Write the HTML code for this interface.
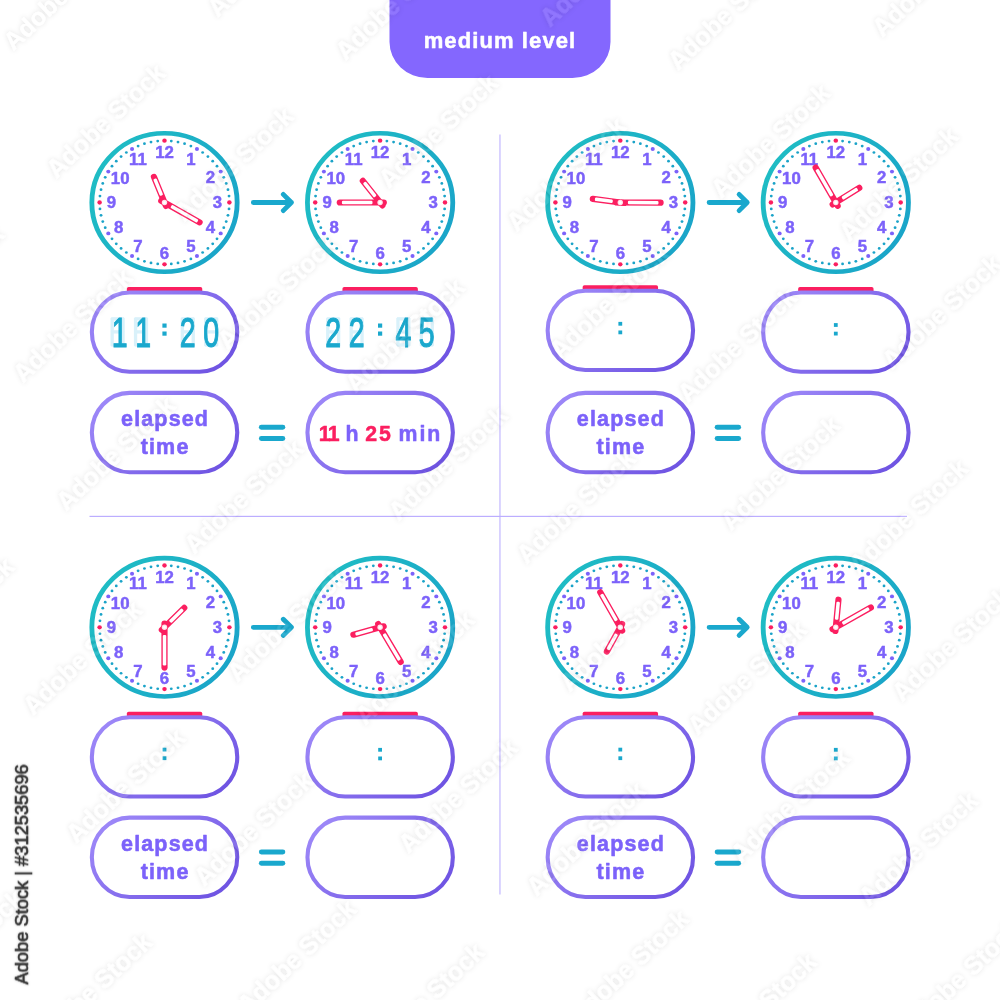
<!DOCTYPE html>
<html lang="en"><head><meta charset="utf-8"><title>Elapsed time worksheet - medium level</title>
<style>html,body{margin:0;padding:0;background:#fff}body{width:1000px;height:1000px;overflow:hidden;position:relative;font-family:"Liberation Sans",sans-serif}svg{display:block;position:absolute;left:0;top:0}</style>
</head><body>
<svg width="1000" height="1000" viewBox="0 0 1000 1000" font-family="'Liberation Sans', sans-serif">
<defs>
<linearGradient id="ring" x1="0" y1="0.25" x2="1" y2="0.75"><stop offset="0" stop-color="#1fbdc4"/><stop offset="1" stop-color="#1aa4c9"/></linearGradient>
<linearGradient id="pill" x1="0" y1="0.2" x2="1" y2="0.8"><stop offset="0" stop-color="#9d88f8"/><stop offset="1" stop-color="#6e53e2"/></linearGradient>
<filter id="wm" filterUnits="userSpaceOnUse" x="0" y="0" width="1000" height="1000"><feGaussianBlur in="SourceAlpha" stdDeviation="2.8" result="b"/><feComposite in="b" in2="SourceAlpha" operator="out" result="o"/><feColorMatrix in="o" type="matrix" values="0 0 0 0 0  0 0 0 0 0  0 0 0 0 0  0 0 0 0.12 0" result="s"/><feColorMatrix in="SourceGraphic" type="matrix" values="1 0 0 0 0  0 1 0 0 0  0 0 1 0 0  0 0 0 0.1 0" result="w"/><feMerge><feMergeNode in="s"/><feMergeNode in="w"/></feMerge></filter>
</defs>
<rect width="1000" height="1000" fill="#fff"/>
<path d="M389.5 0 H610.5 V42 a38 36 0 0 1 -38 36 H427.5 a38 36 0 0 1 -38 -36 Z" fill="#8467fe"/>
<text x="500" y="48.1" font-size="22" font-weight="700" fill="#fff" stroke="#fff" stroke-width="0.5" stroke-linejoin="round" text-anchor="middle" letter-spacing="1.1">medium level</text>
<rect x="499.2" y="134.5" width="1.5" height="760" fill="#cfc6ff"/>
<rect x="89.5" y="515.8" width="817.5" height="1.2" fill="#bcaeff"/>
<g transform="translate(164.5 202.5)">
<g transform="scale(1.05 1)">
<circle r="69.2" fill="#fff" stroke="url(#ring)" stroke-width="4.6"/>
<circle cx="0" cy="-61.8" r="2.15" fill="#fb1f60"/>
<circle cx="6.46" cy="-61.46" r="1.35" fill="#1aa3c8"/>
<circle cx="12.85" cy="-60.45" r="1.35" fill="#1aa3c8"/>
<circle cx="19.1" cy="-58.78" r="1.35" fill="#1aa3c8"/>
<circle cx="25.14" cy="-56.46" r="1.35" fill="#1aa3c8"/>
<circle cx="30.9" cy="-53.52" r="1.95" fill="#7c62fa"/>
<circle cx="36.33" cy="-50" r="1.35" fill="#1aa3c8"/>
<circle cx="41.35" cy="-45.93" r="1.35" fill="#1aa3c8"/>
<circle cx="45.93" cy="-41.35" r="1.35" fill="#1aa3c8"/>
<circle cx="50" cy="-36.33" r="1.35" fill="#1aa3c8"/>
<circle cx="53.52" cy="-30.9" r="1.95" fill="#7c62fa"/>
<circle cx="56.46" cy="-25.14" r="1.35" fill="#1aa3c8"/>
<circle cx="58.78" cy="-19.1" r="1.35" fill="#1aa3c8"/>
<circle cx="60.45" cy="-12.85" r="1.35" fill="#1aa3c8"/>
<circle cx="61.46" cy="-6.46" r="1.35" fill="#1aa3c8"/>
<circle cx="61.8" cy="0" r="2.15" fill="#fb1f60"/>
<circle cx="61.46" cy="6.46" r="1.35" fill="#1aa3c8"/>
<circle cx="60.45" cy="12.85" r="1.35" fill="#1aa3c8"/>
<circle cx="58.78" cy="19.1" r="1.35" fill="#1aa3c8"/>
<circle cx="56.46" cy="25.14" r="1.35" fill="#1aa3c8"/>
<circle cx="53.52" cy="30.9" r="1.95" fill="#7c62fa"/>
<circle cx="50" cy="36.33" r="1.35" fill="#1aa3c8"/>
<circle cx="45.93" cy="41.35" r="1.35" fill="#1aa3c8"/>
<circle cx="41.35" cy="45.93" r="1.35" fill="#1aa3c8"/>
<circle cx="36.33" cy="50" r="1.35" fill="#1aa3c8"/>
<circle cx="30.9" cy="53.52" r="1.95" fill="#7c62fa"/>
<circle cx="25.14" cy="56.46" r="1.35" fill="#1aa3c8"/>
<circle cx="19.1" cy="58.78" r="1.35" fill="#1aa3c8"/>
<circle cx="12.85" cy="60.45" r="1.35" fill="#1aa3c8"/>
<circle cx="6.46" cy="61.46" r="1.35" fill="#1aa3c8"/>
<circle cx="0" cy="61.8" r="2.15" fill="#fb1f60"/>
<circle cx="-6.46" cy="61.46" r="1.35" fill="#1aa3c8"/>
<circle cx="-12.85" cy="60.45" r="1.35" fill="#1aa3c8"/>
<circle cx="-19.1" cy="58.78" r="1.35" fill="#1aa3c8"/>
<circle cx="-25.14" cy="56.46" r="1.35" fill="#1aa3c8"/>
<circle cx="-30.9" cy="53.52" r="1.95" fill="#7c62fa"/>
<circle cx="-36.33" cy="50" r="1.35" fill="#1aa3c8"/>
<circle cx="-41.35" cy="45.93" r="1.35" fill="#1aa3c8"/>
<circle cx="-45.93" cy="41.35" r="1.35" fill="#1aa3c8"/>
<circle cx="-50" cy="36.33" r="1.35" fill="#1aa3c8"/>
<circle cx="-53.52" cy="30.9" r="1.95" fill="#7c62fa"/>
<circle cx="-56.46" cy="25.14" r="1.35" fill="#1aa3c8"/>
<circle cx="-58.78" cy="19.1" r="1.35" fill="#1aa3c8"/>
<circle cx="-60.45" cy="12.85" r="1.35" fill="#1aa3c8"/>
<circle cx="-61.46" cy="6.46" r="1.35" fill="#1aa3c8"/>
<circle cx="-61.8" cy="0" r="2.15" fill="#fb1f60"/>
<circle cx="-61.46" cy="-6.46" r="1.35" fill="#1aa3c8"/>
<circle cx="-60.45" cy="-12.85" r="1.35" fill="#1aa3c8"/>
<circle cx="-58.78" cy="-19.1" r="1.35" fill="#1aa3c8"/>
<circle cx="-56.46" cy="-25.14" r="1.35" fill="#1aa3c8"/>
<circle cx="-53.52" cy="-30.9" r="1.95" fill="#7c62fa"/>
<circle cx="-50" cy="-36.33" r="1.35" fill="#1aa3c8"/>
<circle cx="-45.93" cy="-41.35" r="1.35" fill="#1aa3c8"/>
<circle cx="-41.35" cy="-45.93" r="1.35" fill="#1aa3c8"/>
<circle cx="-36.33" cy="-50" r="1.35" fill="#1aa3c8"/>
<circle cx="-30.9" cy="-53.52" r="1.95" fill="#7c62fa"/>
<circle cx="-25.14" cy="-56.46" r="1.35" fill="#1aa3c8"/>
<circle cx="-19.1" cy="-58.78" r="1.35" fill="#1aa3c8"/>
<circle cx="-12.85" cy="-60.45" r="1.35" fill="#1aa3c8"/>
<circle cx="-6.46" cy="-61.46" r="1.35" fill="#1aa3c8"/>
<g font-size="16" font-weight="700" fill="#7c62fa" stroke="#7c62fa" stroke-width="0.45" stroke-linejoin="round" text-anchor="middle">
<text x="25.25" y="-37.98">1</text>
<text x="43.73" y="-19.5">2</text>
<text x="50.5" y="5.75">3</text>
<text x="43.73" y="31">4</text>
<text x="25.25" y="49.48">5</text>
<text x="0" y="56.25">6</text>
<text x="-25.25" y="49.48">7</text>
<text x="-43.73" y="31">8</text>
<text x="-50.5" y="5.75">9</text>
<text x="-42.26" y="-18.65">10</text>
<text x="-25.25" y="-37.98">11</text>
<text x="0" y="-44.75">12</text>
</g>
</g>
<g transform="rotate(29.5)">
<rect x="-6.8" y="-3.1" width="50.2" height="6.2" rx="3.1" fill="#fb1f60"/>
<rect x="7.6" y="-1.75" width="30.6" height="3.5" rx="1.2" fill="#fff"/>
</g>
<g transform="rotate(247.6)">
<rect x="-6.8" y="-3.1" width="37.6" height="6.2" rx="3.1" fill="#fb1f60"/>
<rect x="7.6" y="-1.75" width="18" height="3.5" rx="1.2" fill="#fff"/>
</g>
<circle r="2.7" fill="#ffe3ea"/>
<circle r="1.5" fill="#fff"/>
</g>
<g transform="translate(380.1 202.5)">
<g transform="scale(1.05 1)">
<circle r="69.2" fill="#fff" stroke="url(#ring)" stroke-width="4.6"/>
<circle cx="0" cy="-61.8" r="2.15" fill="#fb1f60"/>
<circle cx="6.46" cy="-61.46" r="1.35" fill="#1aa3c8"/>
<circle cx="12.85" cy="-60.45" r="1.35" fill="#1aa3c8"/>
<circle cx="19.1" cy="-58.78" r="1.35" fill="#1aa3c8"/>
<circle cx="25.14" cy="-56.46" r="1.35" fill="#1aa3c8"/>
<circle cx="30.9" cy="-53.52" r="1.95" fill="#7c62fa"/>
<circle cx="36.33" cy="-50" r="1.35" fill="#1aa3c8"/>
<circle cx="41.35" cy="-45.93" r="1.35" fill="#1aa3c8"/>
<circle cx="45.93" cy="-41.35" r="1.35" fill="#1aa3c8"/>
<circle cx="50" cy="-36.33" r="1.35" fill="#1aa3c8"/>
<circle cx="53.52" cy="-30.9" r="1.95" fill="#7c62fa"/>
<circle cx="56.46" cy="-25.14" r="1.35" fill="#1aa3c8"/>
<circle cx="58.78" cy="-19.1" r="1.35" fill="#1aa3c8"/>
<circle cx="60.45" cy="-12.85" r="1.35" fill="#1aa3c8"/>
<circle cx="61.46" cy="-6.46" r="1.35" fill="#1aa3c8"/>
<circle cx="61.8" cy="0" r="2.15" fill="#fb1f60"/>
<circle cx="61.46" cy="6.46" r="1.35" fill="#1aa3c8"/>
<circle cx="60.45" cy="12.85" r="1.35" fill="#1aa3c8"/>
<circle cx="58.78" cy="19.1" r="1.35" fill="#1aa3c8"/>
<circle cx="56.46" cy="25.14" r="1.35" fill="#1aa3c8"/>
<circle cx="53.52" cy="30.9" r="1.95" fill="#7c62fa"/>
<circle cx="50" cy="36.33" r="1.35" fill="#1aa3c8"/>
<circle cx="45.93" cy="41.35" r="1.35" fill="#1aa3c8"/>
<circle cx="41.35" cy="45.93" r="1.35" fill="#1aa3c8"/>
<circle cx="36.33" cy="50" r="1.35" fill="#1aa3c8"/>
<circle cx="30.9" cy="53.52" r="1.95" fill="#7c62fa"/>
<circle cx="25.14" cy="56.46" r="1.35" fill="#1aa3c8"/>
<circle cx="19.1" cy="58.78" r="1.35" fill="#1aa3c8"/>
<circle cx="12.85" cy="60.45" r="1.35" fill="#1aa3c8"/>
<circle cx="6.46" cy="61.46" r="1.35" fill="#1aa3c8"/>
<circle cx="0" cy="61.8" r="2.15" fill="#fb1f60"/>
<circle cx="-6.46" cy="61.46" r="1.35" fill="#1aa3c8"/>
<circle cx="-12.85" cy="60.45" r="1.35" fill="#1aa3c8"/>
<circle cx="-19.1" cy="58.78" r="1.35" fill="#1aa3c8"/>
<circle cx="-25.14" cy="56.46" r="1.35" fill="#1aa3c8"/>
<circle cx="-30.9" cy="53.52" r="1.95" fill="#7c62fa"/>
<circle cx="-36.33" cy="50" r="1.35" fill="#1aa3c8"/>
<circle cx="-41.35" cy="45.93" r="1.35" fill="#1aa3c8"/>
<circle cx="-45.93" cy="41.35" r="1.35" fill="#1aa3c8"/>
<circle cx="-50" cy="36.33" r="1.35" fill="#1aa3c8"/>
<circle cx="-53.52" cy="30.9" r="1.95" fill="#7c62fa"/>
<circle cx="-56.46" cy="25.14" r="1.35" fill="#1aa3c8"/>
<circle cx="-58.78" cy="19.1" r="1.35" fill="#1aa3c8"/>
<circle cx="-60.45" cy="12.85" r="1.35" fill="#1aa3c8"/>
<circle cx="-61.46" cy="6.46" r="1.35" fill="#1aa3c8"/>
<circle cx="-61.8" cy="0" r="2.15" fill="#fb1f60"/>
<circle cx="-61.46" cy="-6.46" r="1.35" fill="#1aa3c8"/>
<circle cx="-60.45" cy="-12.85" r="1.35" fill="#1aa3c8"/>
<circle cx="-58.78" cy="-19.1" r="1.35" fill="#1aa3c8"/>
<circle cx="-56.46" cy="-25.14" r="1.35" fill="#1aa3c8"/>
<circle cx="-53.52" cy="-30.9" r="1.95" fill="#7c62fa"/>
<circle cx="-50" cy="-36.33" r="1.35" fill="#1aa3c8"/>
<circle cx="-45.93" cy="-41.35" r="1.35" fill="#1aa3c8"/>
<circle cx="-41.35" cy="-45.93" r="1.35" fill="#1aa3c8"/>
<circle cx="-36.33" cy="-50" r="1.35" fill="#1aa3c8"/>
<circle cx="-30.9" cy="-53.52" r="1.95" fill="#7c62fa"/>
<circle cx="-25.14" cy="-56.46" r="1.35" fill="#1aa3c8"/>
<circle cx="-19.1" cy="-58.78" r="1.35" fill="#1aa3c8"/>
<circle cx="-12.85" cy="-60.45" r="1.35" fill="#1aa3c8"/>
<circle cx="-6.46" cy="-61.46" r="1.35" fill="#1aa3c8"/>
<g font-size="16" font-weight="700" fill="#7c62fa" stroke="#7c62fa" stroke-width="0.45" stroke-linejoin="round" text-anchor="middle">
<text x="25.25" y="-37.98">1</text>
<text x="43.73" y="-19.5">2</text>
<text x="50.5" y="5.75">3</text>
<text x="43.73" y="31">4</text>
<text x="25.25" y="49.48">5</text>
<text x="0" y="56.25">6</text>
<text x="-25.25" y="49.48">7</text>
<text x="-43.73" y="31">8</text>
<text x="-50.5" y="5.75">9</text>
<text x="-42.26" y="-18.65">10</text>
<text x="-25.25" y="-37.98">11</text>
<text x="0" y="-44.75">12</text>
</g>
</g>
<g transform="rotate(180)">
<rect x="-6.8" y="-3.1" width="50.2" height="6.2" rx="3.1" fill="#fb1f60"/>
<rect x="7.6" y="-1.75" width="30.6" height="3.5" rx="1.2" fill="#fff"/>
</g>
<g transform="rotate(231.5)">
<rect x="-6.8" y="-3.1" width="37.6" height="6.2" rx="3.1" fill="#fb1f60"/>
<rect x="7.6" y="-1.75" width="18" height="3.5" rx="1.2" fill="#fff"/>
</g>
<circle r="2.7" fill="#ffe3ea"/>
<circle r="1.5" fill="#fff"/>
</g>
<path d="M253.3 202.5 H291.4 M283.3 194.4 L291.4 202.5 L283.3 210.6" fill="none" stroke="#1aa8cd" stroke-width="4.8" stroke-linecap="round" stroke-linejoin="round"/>
<path d="M126.85 291.9 v-3.2 a1.8 1.8 0 0 1 1.8 -1.8 h71.8 a1.8 1.8 0 0 1 1.8 1.8 v3.2 z" fill="#fb1f60"/>
<rect x="91.85" y="292.45" width="145.4" height="79.3" rx="37.67" ry="39.65" fill="#fff" stroke="url(#pill)" stroke-width="4.1"/>
<path d="M342.45 291.9 v-3.2 a1.8 1.8 0 0 1 1.8 -1.8 h71.8 a1.8 1.8 0 0 1 1.8 1.8 v3.2 z" fill="#fb1f60"/>
<rect x="307.45" y="292.45" width="145.4" height="79.3" rx="37.67" ry="39.65" fill="#fff" stroke="url(#pill)" stroke-width="4.1"/>
<rect x="91.85" y="392.85" width="145.4" height="79.4" rx="37.72" ry="39.7" fill="#fff" stroke="url(#pill)" stroke-width="4.1"/>
<rect x="307.45" y="392.85" width="145.4" height="79.4" rx="37.72" ry="39.7" fill="#fff" stroke="url(#pill)" stroke-width="4.1"/>
<rect x="258.9" y="424.75" width="26.4" height="4.9" rx="2.45" fill="#1aa8cd"/>
<rect x="258.9" y="436.05" width="26.4" height="4.9" rx="2.45" fill="#1aa8cd"/>
<g font-size="21.5" font-weight="700" fill="#7c62fa" stroke="#7c62fa" stroke-width="0.55" stroke-linejoin="round" text-anchor="middle" letter-spacing="1.15">
<text x="165.1" y="425.8">elapsed</text>
<text x="165.1" y="454.3">time</text>
</g>
<g fill="#d9f1fa">
<rect x="111.2" y="317.2" width="12.8" height="3.3"/>
<rect x="111.2" y="330.25" width="12.8" height="3.3"/>
<rect x="111.2" y="343.3" width="12.8" height="3.3"/>
<rect x="110.5" y="317.9" width="3.3" height="14.15"/>
<rect x="110.5" y="331.75" width="3.3" height="14.15"/>
<rect x="121.4" y="317.9" width="3.3" height="14.15"/>
<rect x="121.4" y="331.75" width="3.3" height="14.15"/>
</g>
<g fill="#d9f1fa">
<rect x="134.6" y="317.2" width="12.8" height="3.3"/>
<rect x="134.6" y="330.25" width="12.8" height="3.3"/>
<rect x="134.6" y="343.3" width="12.8" height="3.3"/>
<rect x="133.9" y="317.9" width="3.3" height="14.15"/>
<rect x="133.9" y="331.75" width="3.3" height="14.15"/>
<rect x="144.8" y="317.9" width="3.3" height="14.15"/>
<rect x="144.8" y="331.75" width="3.3" height="14.15"/>
</g>
<g fill="#d9f1fa">
<rect x="181.4" y="317.2" width="12.8" height="3.3"/>
<rect x="181.4" y="330.25" width="12.8" height="3.3"/>
<rect x="181.4" y="343.3" width="12.8" height="3.3"/>
<rect x="180.7" y="317.9" width="3.3" height="14.15"/>
<rect x="180.7" y="331.75" width="3.3" height="14.15"/>
<rect x="191.6" y="317.9" width="3.3" height="14.15"/>
<rect x="191.6" y="331.75" width="3.3" height="14.15"/>
</g>
<g fill="#d9f1fa">
<rect x="204.8" y="317.2" width="12.8" height="3.3"/>
<rect x="204.8" y="330.25" width="12.8" height="3.3"/>
<rect x="204.8" y="343.3" width="12.8" height="3.3"/>
<rect x="204.1" y="317.9" width="3.3" height="14.15"/>
<rect x="204.1" y="331.75" width="3.3" height="14.15"/>
<rect x="215" y="317.9" width="3.3" height="14.15"/>
<rect x="215" y="331.75" width="3.3" height="14.15"/>
</g>
<g font-size="42.6" fill="#1aa8cd" stroke="#1aa8cd" stroke-width="1.1" text-anchor="middle">
<text transform="translate(119.8 346.6) scale(0.67 1)">1</text>
<text transform="translate(143.2 346.6) scale(0.67 1)">1</text>
<text transform="translate(187.8 346.6) scale(0.67 1)">2</text>
<text transform="translate(211.2 346.6) scale(0.67 1)">0</text>
</g>
<rect x="162.4" y="323.5" width="4.2" height="4.2" fill="#1aa8cd"/>
<rect x="162.4" y="331.5" width="4.2" height="4.2" fill="#1aa8cd"/>
<g fill="#d9f1fa">
<rect x="326.8" y="317.2" width="12.8" height="3.3"/>
<rect x="326.8" y="330.25" width="12.8" height="3.3"/>
<rect x="326.8" y="343.3" width="12.8" height="3.3"/>
<rect x="326.1" y="317.9" width="3.3" height="14.15"/>
<rect x="326.1" y="331.75" width="3.3" height="14.15"/>
<rect x="337" y="317.9" width="3.3" height="14.15"/>
<rect x="337" y="331.75" width="3.3" height="14.15"/>
</g>
<g fill="#d9f1fa">
<rect x="350.2" y="317.2" width="12.8" height="3.3"/>
<rect x="350.2" y="330.25" width="12.8" height="3.3"/>
<rect x="350.2" y="343.3" width="12.8" height="3.3"/>
<rect x="349.5" y="317.9" width="3.3" height="14.15"/>
<rect x="349.5" y="331.75" width="3.3" height="14.15"/>
<rect x="360.4" y="317.9" width="3.3" height="14.15"/>
<rect x="360.4" y="331.75" width="3.3" height="14.15"/>
</g>
<g fill="#d9f1fa">
<rect x="397" y="317.2" width="12.8" height="3.3"/>
<rect x="397" y="330.25" width="12.8" height="3.3"/>
<rect x="397" y="343.3" width="12.8" height="3.3"/>
<rect x="396.3" y="317.9" width="3.3" height="14.15"/>
<rect x="396.3" y="331.75" width="3.3" height="14.15"/>
<rect x="407.2" y="317.9" width="3.3" height="14.15"/>
<rect x="407.2" y="331.75" width="3.3" height="14.15"/>
</g>
<g fill="#d9f1fa">
<rect x="420.4" y="317.2" width="12.8" height="3.3"/>
<rect x="420.4" y="330.25" width="12.8" height="3.3"/>
<rect x="420.4" y="343.3" width="12.8" height="3.3"/>
<rect x="419.7" y="317.9" width="3.3" height="14.15"/>
<rect x="419.7" y="331.75" width="3.3" height="14.15"/>
<rect x="430.6" y="317.9" width="3.3" height="14.15"/>
<rect x="430.6" y="331.75" width="3.3" height="14.15"/>
</g>
<g font-size="42.6" fill="#1aa8cd" stroke="#1aa8cd" stroke-width="1.1" text-anchor="middle">
<text transform="translate(333.2 346.6) scale(0.67 1)">2</text>
<text transform="translate(356.6 346.6) scale(0.67 1)">2</text>
<text transform="translate(403.4 346.6) scale(0.67 1)">4</text>
<text transform="translate(426.8 346.6) scale(0.67 1)">5</text>
</g>
<rect x="378" y="323.5" width="4.2" height="4.2" fill="#1aa8cd"/>
<rect x="378" y="331.5" width="4.2" height="4.2" fill="#1aa8cd"/>
<text y="441.4" font-size="21.3" font-weight="700" stroke-width="0.5" stroke-linejoin="round" fill="#7c62fa" stroke="#7c62fa"><tspan x="318.8" fill="#fb1f60" stroke="#fb1f60" letter-spacing="-1.6">11</tspan> <tspan x="345.6">h</tspan> <tspan x="365.2" fill="#fb1f60" stroke="#fb1f60" letter-spacing="2">25</tspan> <tspan x="398.6" letter-spacing="1.9">min</tspan></text>
<g transform="translate(620.3 202.5)">
<g transform="scale(1.05 1)">
<circle r="69.2" fill="#fff" stroke="url(#ring)" stroke-width="4.6"/>
<circle cx="0" cy="-61.8" r="2.15" fill="#fb1f60"/>
<circle cx="6.46" cy="-61.46" r="1.35" fill="#1aa3c8"/>
<circle cx="12.85" cy="-60.45" r="1.35" fill="#1aa3c8"/>
<circle cx="19.1" cy="-58.78" r="1.35" fill="#1aa3c8"/>
<circle cx="25.14" cy="-56.46" r="1.35" fill="#1aa3c8"/>
<circle cx="30.9" cy="-53.52" r="1.95" fill="#7c62fa"/>
<circle cx="36.33" cy="-50" r="1.35" fill="#1aa3c8"/>
<circle cx="41.35" cy="-45.93" r="1.35" fill="#1aa3c8"/>
<circle cx="45.93" cy="-41.35" r="1.35" fill="#1aa3c8"/>
<circle cx="50" cy="-36.33" r="1.35" fill="#1aa3c8"/>
<circle cx="53.52" cy="-30.9" r="1.95" fill="#7c62fa"/>
<circle cx="56.46" cy="-25.14" r="1.35" fill="#1aa3c8"/>
<circle cx="58.78" cy="-19.1" r="1.35" fill="#1aa3c8"/>
<circle cx="60.45" cy="-12.85" r="1.35" fill="#1aa3c8"/>
<circle cx="61.46" cy="-6.46" r="1.35" fill="#1aa3c8"/>
<circle cx="61.8" cy="0" r="2.15" fill="#fb1f60"/>
<circle cx="61.46" cy="6.46" r="1.35" fill="#1aa3c8"/>
<circle cx="60.45" cy="12.85" r="1.35" fill="#1aa3c8"/>
<circle cx="58.78" cy="19.1" r="1.35" fill="#1aa3c8"/>
<circle cx="56.46" cy="25.14" r="1.35" fill="#1aa3c8"/>
<circle cx="53.52" cy="30.9" r="1.95" fill="#7c62fa"/>
<circle cx="50" cy="36.33" r="1.35" fill="#1aa3c8"/>
<circle cx="45.93" cy="41.35" r="1.35" fill="#1aa3c8"/>
<circle cx="41.35" cy="45.93" r="1.35" fill="#1aa3c8"/>
<circle cx="36.33" cy="50" r="1.35" fill="#1aa3c8"/>
<circle cx="30.9" cy="53.52" r="1.95" fill="#7c62fa"/>
<circle cx="25.14" cy="56.46" r="1.35" fill="#1aa3c8"/>
<circle cx="19.1" cy="58.78" r="1.35" fill="#1aa3c8"/>
<circle cx="12.85" cy="60.45" r="1.35" fill="#1aa3c8"/>
<circle cx="6.46" cy="61.46" r="1.35" fill="#1aa3c8"/>
<circle cx="0" cy="61.8" r="2.15" fill="#fb1f60"/>
<circle cx="-6.46" cy="61.46" r="1.35" fill="#1aa3c8"/>
<circle cx="-12.85" cy="60.45" r="1.35" fill="#1aa3c8"/>
<circle cx="-19.1" cy="58.78" r="1.35" fill="#1aa3c8"/>
<circle cx="-25.14" cy="56.46" r="1.35" fill="#1aa3c8"/>
<circle cx="-30.9" cy="53.52" r="1.95" fill="#7c62fa"/>
<circle cx="-36.33" cy="50" r="1.35" fill="#1aa3c8"/>
<circle cx="-41.35" cy="45.93" r="1.35" fill="#1aa3c8"/>
<circle cx="-45.93" cy="41.35" r="1.35" fill="#1aa3c8"/>
<circle cx="-50" cy="36.33" r="1.35" fill="#1aa3c8"/>
<circle cx="-53.52" cy="30.9" r="1.95" fill="#7c62fa"/>
<circle cx="-56.46" cy="25.14" r="1.35" fill="#1aa3c8"/>
<circle cx="-58.78" cy="19.1" r="1.35" fill="#1aa3c8"/>
<circle cx="-60.45" cy="12.85" r="1.35" fill="#1aa3c8"/>
<circle cx="-61.46" cy="6.46" r="1.35" fill="#1aa3c8"/>
<circle cx="-61.8" cy="0" r="2.15" fill="#fb1f60"/>
<circle cx="-61.46" cy="-6.46" r="1.35" fill="#1aa3c8"/>
<circle cx="-60.45" cy="-12.85" r="1.35" fill="#1aa3c8"/>
<circle cx="-58.78" cy="-19.1" r="1.35" fill="#1aa3c8"/>
<circle cx="-56.46" cy="-25.14" r="1.35" fill="#1aa3c8"/>
<circle cx="-53.52" cy="-30.9" r="1.95" fill="#7c62fa"/>
<circle cx="-50" cy="-36.33" r="1.35" fill="#1aa3c8"/>
<circle cx="-45.93" cy="-41.35" r="1.35" fill="#1aa3c8"/>
<circle cx="-41.35" cy="-45.93" r="1.35" fill="#1aa3c8"/>
<circle cx="-36.33" cy="-50" r="1.35" fill="#1aa3c8"/>
<circle cx="-30.9" cy="-53.52" r="1.95" fill="#7c62fa"/>
<circle cx="-25.14" cy="-56.46" r="1.35" fill="#1aa3c8"/>
<circle cx="-19.1" cy="-58.78" r="1.35" fill="#1aa3c8"/>
<circle cx="-12.85" cy="-60.45" r="1.35" fill="#1aa3c8"/>
<circle cx="-6.46" cy="-61.46" r="1.35" fill="#1aa3c8"/>
<g font-size="16" font-weight="700" fill="#7c62fa" stroke="#7c62fa" stroke-width="0.45" stroke-linejoin="round" text-anchor="middle">
<text x="25.25" y="-37.98">1</text>
<text x="43.73" y="-19.5">2</text>
<text x="50.5" y="5.75">3</text>
<text x="43.73" y="31">4</text>
<text x="25.25" y="49.48">5</text>
<text x="0" y="56.25">6</text>
<text x="-25.25" y="49.48">7</text>
<text x="-43.73" y="31">8</text>
<text x="-50.5" y="5.75">9</text>
<text x="-42.26" y="-18.65">10</text>
<text x="-25.25" y="-37.98">11</text>
<text x="0" y="-44.75">12</text>
</g>
</g>
<g transform="rotate(0.3)">
<rect x="-6.8" y="-3.1" width="50.2" height="6.2" rx="3.1" fill="#fb1f60"/>
<rect x="7.6" y="-1.75" width="30.6" height="3.5" rx="1.2" fill="#fff"/>
</g>
<g transform="rotate(187.5)">
<rect x="-6.8" y="-3.1" width="37.6" height="6.2" rx="3.1" fill="#fb1f60"/>
<rect x="7.6" y="-1.75" width="18" height="3.5" rx="1.2" fill="#fff"/>
</g>
<circle r="2.7" fill="#ffe3ea"/>
<circle r="1.5" fill="#fff"/>
</g>
<g transform="translate(835.8 202.5)">
<g transform="scale(1.05 1)">
<circle r="69.2" fill="#fff" stroke="url(#ring)" stroke-width="4.6"/>
<circle cx="0" cy="-61.8" r="2.15" fill="#fb1f60"/>
<circle cx="6.46" cy="-61.46" r="1.35" fill="#1aa3c8"/>
<circle cx="12.85" cy="-60.45" r="1.35" fill="#1aa3c8"/>
<circle cx="19.1" cy="-58.78" r="1.35" fill="#1aa3c8"/>
<circle cx="25.14" cy="-56.46" r="1.35" fill="#1aa3c8"/>
<circle cx="30.9" cy="-53.52" r="1.95" fill="#7c62fa"/>
<circle cx="36.33" cy="-50" r="1.35" fill="#1aa3c8"/>
<circle cx="41.35" cy="-45.93" r="1.35" fill="#1aa3c8"/>
<circle cx="45.93" cy="-41.35" r="1.35" fill="#1aa3c8"/>
<circle cx="50" cy="-36.33" r="1.35" fill="#1aa3c8"/>
<circle cx="53.52" cy="-30.9" r="1.95" fill="#7c62fa"/>
<circle cx="56.46" cy="-25.14" r="1.35" fill="#1aa3c8"/>
<circle cx="58.78" cy="-19.1" r="1.35" fill="#1aa3c8"/>
<circle cx="60.45" cy="-12.85" r="1.35" fill="#1aa3c8"/>
<circle cx="61.46" cy="-6.46" r="1.35" fill="#1aa3c8"/>
<circle cx="61.8" cy="0" r="2.15" fill="#fb1f60"/>
<circle cx="61.46" cy="6.46" r="1.35" fill="#1aa3c8"/>
<circle cx="60.45" cy="12.85" r="1.35" fill="#1aa3c8"/>
<circle cx="58.78" cy="19.1" r="1.35" fill="#1aa3c8"/>
<circle cx="56.46" cy="25.14" r="1.35" fill="#1aa3c8"/>
<circle cx="53.52" cy="30.9" r="1.95" fill="#7c62fa"/>
<circle cx="50" cy="36.33" r="1.35" fill="#1aa3c8"/>
<circle cx="45.93" cy="41.35" r="1.35" fill="#1aa3c8"/>
<circle cx="41.35" cy="45.93" r="1.35" fill="#1aa3c8"/>
<circle cx="36.33" cy="50" r="1.35" fill="#1aa3c8"/>
<circle cx="30.9" cy="53.52" r="1.95" fill="#7c62fa"/>
<circle cx="25.14" cy="56.46" r="1.35" fill="#1aa3c8"/>
<circle cx="19.1" cy="58.78" r="1.35" fill="#1aa3c8"/>
<circle cx="12.85" cy="60.45" r="1.35" fill="#1aa3c8"/>
<circle cx="6.46" cy="61.46" r="1.35" fill="#1aa3c8"/>
<circle cx="0" cy="61.8" r="2.15" fill="#fb1f60"/>
<circle cx="-6.46" cy="61.46" r="1.35" fill="#1aa3c8"/>
<circle cx="-12.85" cy="60.45" r="1.35" fill="#1aa3c8"/>
<circle cx="-19.1" cy="58.78" r="1.35" fill="#1aa3c8"/>
<circle cx="-25.14" cy="56.46" r="1.35" fill="#1aa3c8"/>
<circle cx="-30.9" cy="53.52" r="1.95" fill="#7c62fa"/>
<circle cx="-36.33" cy="50" r="1.35" fill="#1aa3c8"/>
<circle cx="-41.35" cy="45.93" r="1.35" fill="#1aa3c8"/>
<circle cx="-45.93" cy="41.35" r="1.35" fill="#1aa3c8"/>
<circle cx="-50" cy="36.33" r="1.35" fill="#1aa3c8"/>
<circle cx="-53.52" cy="30.9" r="1.95" fill="#7c62fa"/>
<circle cx="-56.46" cy="25.14" r="1.35" fill="#1aa3c8"/>
<circle cx="-58.78" cy="19.1" r="1.35" fill="#1aa3c8"/>
<circle cx="-60.45" cy="12.85" r="1.35" fill="#1aa3c8"/>
<circle cx="-61.46" cy="6.46" r="1.35" fill="#1aa3c8"/>
<circle cx="-61.8" cy="0" r="2.15" fill="#fb1f60"/>
<circle cx="-61.46" cy="-6.46" r="1.35" fill="#1aa3c8"/>
<circle cx="-60.45" cy="-12.85" r="1.35" fill="#1aa3c8"/>
<circle cx="-58.78" cy="-19.1" r="1.35" fill="#1aa3c8"/>
<circle cx="-56.46" cy="-25.14" r="1.35" fill="#1aa3c8"/>
<circle cx="-53.52" cy="-30.9" r="1.95" fill="#7c62fa"/>
<circle cx="-50" cy="-36.33" r="1.35" fill="#1aa3c8"/>
<circle cx="-45.93" cy="-41.35" r="1.35" fill="#1aa3c8"/>
<circle cx="-41.35" cy="-45.93" r="1.35" fill="#1aa3c8"/>
<circle cx="-36.33" cy="-50" r="1.35" fill="#1aa3c8"/>
<circle cx="-30.9" cy="-53.52" r="1.95" fill="#7c62fa"/>
<circle cx="-25.14" cy="-56.46" r="1.35" fill="#1aa3c8"/>
<circle cx="-19.1" cy="-58.78" r="1.35" fill="#1aa3c8"/>
<circle cx="-12.85" cy="-60.45" r="1.35" fill="#1aa3c8"/>
<circle cx="-6.46" cy="-61.46" r="1.35" fill="#1aa3c8"/>
<g font-size="16" font-weight="700" fill="#7c62fa" stroke="#7c62fa" stroke-width="0.45" stroke-linejoin="round" text-anchor="middle">
<text x="25.25" y="-37.98">1</text>
<text x="43.73" y="-19.5">2</text>
<text x="50.5" y="5.75">3</text>
<text x="43.73" y="31">4</text>
<text x="25.25" y="49.48">5</text>
<text x="0" y="56.25">6</text>
<text x="-25.25" y="49.48">7</text>
<text x="-43.73" y="31">8</text>
<text x="-50.5" y="5.75">9</text>
<text x="-42.26" y="-18.65">10</text>
<text x="-25.25" y="-37.98">11</text>
<text x="0" y="-44.75">12</text>
</g>
</g>
<g transform="rotate(240)">
<rect x="-6.8" y="-3.1" width="50.2" height="6.2" rx="3.1" fill="#fb1f60"/>
<rect x="7.6" y="-1.75" width="30.6" height="3.5" rx="1.2" fill="#fff"/>
</g>
<g transform="rotate(-32)">
<rect x="-6.8" y="-3.1" width="37.6" height="6.2" rx="3.1" fill="#fb1f60"/>
<rect x="7.6" y="-1.75" width="18" height="3.5" rx="1.2" fill="#fff"/>
</g>
<circle r="2.7" fill="#ffe3ea"/>
<circle r="1.5" fill="#fff"/>
</g>
<path d="M709.1 202.5 H747.2 M739.1 194.4 L747.2 202.5 L739.1 210.6" fill="none" stroke="#1aa8cd" stroke-width="4.8" stroke-linecap="round" stroke-linejoin="round"/>
<path d="M582.65 290.2 v-3.2 a1.8 1.8 0 0 1 1.8 -1.8 h71.8 a1.8 1.8 0 0 1 1.8 1.8 v3.2 z" fill="#fb1f60"/>
<rect x="547.65" y="290.75" width="145.4" height="79.3" rx="37.67" ry="39.65" fill="#fff" stroke="url(#pill)" stroke-width="4.1"/>
<path d="M798.15 291.9 v-3.2 a1.8 1.8 0 0 1 1.8 -1.8 h71.8 a1.8 1.8 0 0 1 1.8 1.8 v3.2 z" fill="#fb1f60"/>
<rect x="763.15" y="292.45" width="145.4" height="79.3" rx="37.67" ry="39.65" fill="#fff" stroke="url(#pill)" stroke-width="4.1"/>
<rect x="547.65" y="392.85" width="145.4" height="79.4" rx="37.72" ry="39.7" fill="#fff" stroke="url(#pill)" stroke-width="4.1"/>
<rect x="763.15" y="392.85" width="145.4" height="79.4" rx="37.72" ry="39.7" fill="#fff" stroke="url(#pill)" stroke-width="4.1"/>
<rect x="714.7" y="424.75" width="26.4" height="4.9" rx="2.45" fill="#1aa8cd"/>
<rect x="714.7" y="436.05" width="26.4" height="4.9" rx="2.45" fill="#1aa8cd"/>
<g font-size="21.5" font-weight="700" fill="#7c62fa" stroke="#7c62fa" stroke-width="0.55" stroke-linejoin="round" text-anchor="middle" letter-spacing="1.15">
<text x="620.9" y="425.8">elapsed</text>
<text x="620.9" y="454.3">time</text>
</g>
<rect x="618.4" y="321.88" width="3.8" height="3.8" fill="#1aa8cd"/>
<rect x="618.4" y="330.48" width="3.8" height="3.8" fill="#1aa8cd"/>
<rect x="833.9" y="323.1" width="3.8" height="3.8" fill="#1aa8cd"/>
<rect x="833.9" y="331.7" width="3.8" height="3.8" fill="#1aa8cd"/>
<g transform="translate(164.5 627.3)">
<g transform="scale(1.05 1)">
<circle r="69.2" fill="#fff" stroke="url(#ring)" stroke-width="4.6"/>
<circle cx="0" cy="-61.8" r="2.15" fill="#fb1f60"/>
<circle cx="6.46" cy="-61.46" r="1.35" fill="#1aa3c8"/>
<circle cx="12.85" cy="-60.45" r="1.35" fill="#1aa3c8"/>
<circle cx="19.1" cy="-58.78" r="1.35" fill="#1aa3c8"/>
<circle cx="25.14" cy="-56.46" r="1.35" fill="#1aa3c8"/>
<circle cx="30.9" cy="-53.52" r="1.95" fill="#7c62fa"/>
<circle cx="36.33" cy="-50" r="1.35" fill="#1aa3c8"/>
<circle cx="41.35" cy="-45.93" r="1.35" fill="#1aa3c8"/>
<circle cx="45.93" cy="-41.35" r="1.35" fill="#1aa3c8"/>
<circle cx="50" cy="-36.33" r="1.35" fill="#1aa3c8"/>
<circle cx="53.52" cy="-30.9" r="1.95" fill="#7c62fa"/>
<circle cx="56.46" cy="-25.14" r="1.35" fill="#1aa3c8"/>
<circle cx="58.78" cy="-19.1" r="1.35" fill="#1aa3c8"/>
<circle cx="60.45" cy="-12.85" r="1.35" fill="#1aa3c8"/>
<circle cx="61.46" cy="-6.46" r="1.35" fill="#1aa3c8"/>
<circle cx="61.8" cy="0" r="2.15" fill="#fb1f60"/>
<circle cx="61.46" cy="6.46" r="1.35" fill="#1aa3c8"/>
<circle cx="60.45" cy="12.85" r="1.35" fill="#1aa3c8"/>
<circle cx="58.78" cy="19.1" r="1.35" fill="#1aa3c8"/>
<circle cx="56.46" cy="25.14" r="1.35" fill="#1aa3c8"/>
<circle cx="53.52" cy="30.9" r="1.95" fill="#7c62fa"/>
<circle cx="50" cy="36.33" r="1.35" fill="#1aa3c8"/>
<circle cx="45.93" cy="41.35" r="1.35" fill="#1aa3c8"/>
<circle cx="41.35" cy="45.93" r="1.35" fill="#1aa3c8"/>
<circle cx="36.33" cy="50" r="1.35" fill="#1aa3c8"/>
<circle cx="30.9" cy="53.52" r="1.95" fill="#7c62fa"/>
<circle cx="25.14" cy="56.46" r="1.35" fill="#1aa3c8"/>
<circle cx="19.1" cy="58.78" r="1.35" fill="#1aa3c8"/>
<circle cx="12.85" cy="60.45" r="1.35" fill="#1aa3c8"/>
<circle cx="6.46" cy="61.46" r="1.35" fill="#1aa3c8"/>
<circle cx="0" cy="61.8" r="2.15" fill="#fb1f60"/>
<circle cx="-6.46" cy="61.46" r="1.35" fill="#1aa3c8"/>
<circle cx="-12.85" cy="60.45" r="1.35" fill="#1aa3c8"/>
<circle cx="-19.1" cy="58.78" r="1.35" fill="#1aa3c8"/>
<circle cx="-25.14" cy="56.46" r="1.35" fill="#1aa3c8"/>
<circle cx="-30.9" cy="53.52" r="1.95" fill="#7c62fa"/>
<circle cx="-36.33" cy="50" r="1.35" fill="#1aa3c8"/>
<circle cx="-41.35" cy="45.93" r="1.35" fill="#1aa3c8"/>
<circle cx="-45.93" cy="41.35" r="1.35" fill="#1aa3c8"/>
<circle cx="-50" cy="36.33" r="1.35" fill="#1aa3c8"/>
<circle cx="-53.52" cy="30.9" r="1.95" fill="#7c62fa"/>
<circle cx="-56.46" cy="25.14" r="1.35" fill="#1aa3c8"/>
<circle cx="-58.78" cy="19.1" r="1.35" fill="#1aa3c8"/>
<circle cx="-60.45" cy="12.85" r="1.35" fill="#1aa3c8"/>
<circle cx="-61.46" cy="6.46" r="1.35" fill="#1aa3c8"/>
<circle cx="-61.8" cy="0" r="2.15" fill="#fb1f60"/>
<circle cx="-61.46" cy="-6.46" r="1.35" fill="#1aa3c8"/>
<circle cx="-60.45" cy="-12.85" r="1.35" fill="#1aa3c8"/>
<circle cx="-58.78" cy="-19.1" r="1.35" fill="#1aa3c8"/>
<circle cx="-56.46" cy="-25.14" r="1.35" fill="#1aa3c8"/>
<circle cx="-53.52" cy="-30.9" r="1.95" fill="#7c62fa"/>
<circle cx="-50" cy="-36.33" r="1.35" fill="#1aa3c8"/>
<circle cx="-45.93" cy="-41.35" r="1.35" fill="#1aa3c8"/>
<circle cx="-41.35" cy="-45.93" r="1.35" fill="#1aa3c8"/>
<circle cx="-36.33" cy="-50" r="1.35" fill="#1aa3c8"/>
<circle cx="-30.9" cy="-53.52" r="1.95" fill="#7c62fa"/>
<circle cx="-25.14" cy="-56.46" r="1.35" fill="#1aa3c8"/>
<circle cx="-19.1" cy="-58.78" r="1.35" fill="#1aa3c8"/>
<circle cx="-12.85" cy="-60.45" r="1.35" fill="#1aa3c8"/>
<circle cx="-6.46" cy="-61.46" r="1.35" fill="#1aa3c8"/>
<g font-size="16" font-weight="700" fill="#7c62fa" stroke="#7c62fa" stroke-width="0.45" stroke-linejoin="round" text-anchor="middle">
<text x="25.25" y="-37.98">1</text>
<text x="43.73" y="-19.5">2</text>
<text x="50.5" y="5.75">3</text>
<text x="43.73" y="31">4</text>
<text x="25.25" y="49.48">5</text>
<text x="0" y="56.25">6</text>
<text x="-25.25" y="49.48">7</text>
<text x="-43.73" y="31">8</text>
<text x="-50.5" y="5.75">9</text>
<text x="-42.26" y="-18.65">10</text>
<text x="-25.25" y="-37.98">11</text>
<text x="0" y="-44.75">12</text>
</g>
</g>
<g transform="rotate(90)">
<rect x="-6.8" y="-3.1" width="50.2" height="6.2" rx="3.1" fill="#fb1f60"/>
<rect x="7.6" y="-1.75" width="30.6" height="3.5" rx="1.2" fill="#fff"/>
</g>
<g transform="rotate(-44.5)">
<rect x="-6.8" y="-3.1" width="37.6" height="6.2" rx="3.1" fill="#fb1f60"/>
<rect x="7.6" y="-1.75" width="18" height="3.5" rx="1.2" fill="#fff"/>
</g>
<circle r="2.7" fill="#ffe3ea"/>
<circle r="1.5" fill="#fff"/>
</g>
<g transform="translate(380.1 627.3)">
<g transform="scale(1.05 1)">
<circle r="69.2" fill="#fff" stroke="url(#ring)" stroke-width="4.6"/>
<circle cx="0" cy="-61.8" r="2.15" fill="#fb1f60"/>
<circle cx="6.46" cy="-61.46" r="1.35" fill="#1aa3c8"/>
<circle cx="12.85" cy="-60.45" r="1.35" fill="#1aa3c8"/>
<circle cx="19.1" cy="-58.78" r="1.35" fill="#1aa3c8"/>
<circle cx="25.14" cy="-56.46" r="1.35" fill="#1aa3c8"/>
<circle cx="30.9" cy="-53.52" r="1.95" fill="#7c62fa"/>
<circle cx="36.33" cy="-50" r="1.35" fill="#1aa3c8"/>
<circle cx="41.35" cy="-45.93" r="1.35" fill="#1aa3c8"/>
<circle cx="45.93" cy="-41.35" r="1.35" fill="#1aa3c8"/>
<circle cx="50" cy="-36.33" r="1.35" fill="#1aa3c8"/>
<circle cx="53.52" cy="-30.9" r="1.95" fill="#7c62fa"/>
<circle cx="56.46" cy="-25.14" r="1.35" fill="#1aa3c8"/>
<circle cx="58.78" cy="-19.1" r="1.35" fill="#1aa3c8"/>
<circle cx="60.45" cy="-12.85" r="1.35" fill="#1aa3c8"/>
<circle cx="61.46" cy="-6.46" r="1.35" fill="#1aa3c8"/>
<circle cx="61.8" cy="0" r="2.15" fill="#fb1f60"/>
<circle cx="61.46" cy="6.46" r="1.35" fill="#1aa3c8"/>
<circle cx="60.45" cy="12.85" r="1.35" fill="#1aa3c8"/>
<circle cx="58.78" cy="19.1" r="1.35" fill="#1aa3c8"/>
<circle cx="56.46" cy="25.14" r="1.35" fill="#1aa3c8"/>
<circle cx="53.52" cy="30.9" r="1.95" fill="#7c62fa"/>
<circle cx="50" cy="36.33" r="1.35" fill="#1aa3c8"/>
<circle cx="45.93" cy="41.35" r="1.35" fill="#1aa3c8"/>
<circle cx="41.35" cy="45.93" r="1.35" fill="#1aa3c8"/>
<circle cx="36.33" cy="50" r="1.35" fill="#1aa3c8"/>
<circle cx="30.9" cy="53.52" r="1.95" fill="#7c62fa"/>
<circle cx="25.14" cy="56.46" r="1.35" fill="#1aa3c8"/>
<circle cx="19.1" cy="58.78" r="1.35" fill="#1aa3c8"/>
<circle cx="12.85" cy="60.45" r="1.35" fill="#1aa3c8"/>
<circle cx="6.46" cy="61.46" r="1.35" fill="#1aa3c8"/>
<circle cx="0" cy="61.8" r="2.15" fill="#fb1f60"/>
<circle cx="-6.46" cy="61.46" r="1.35" fill="#1aa3c8"/>
<circle cx="-12.85" cy="60.45" r="1.35" fill="#1aa3c8"/>
<circle cx="-19.1" cy="58.78" r="1.35" fill="#1aa3c8"/>
<circle cx="-25.14" cy="56.46" r="1.35" fill="#1aa3c8"/>
<circle cx="-30.9" cy="53.52" r="1.95" fill="#7c62fa"/>
<circle cx="-36.33" cy="50" r="1.35" fill="#1aa3c8"/>
<circle cx="-41.35" cy="45.93" r="1.35" fill="#1aa3c8"/>
<circle cx="-45.93" cy="41.35" r="1.35" fill="#1aa3c8"/>
<circle cx="-50" cy="36.33" r="1.35" fill="#1aa3c8"/>
<circle cx="-53.52" cy="30.9" r="1.95" fill="#7c62fa"/>
<circle cx="-56.46" cy="25.14" r="1.35" fill="#1aa3c8"/>
<circle cx="-58.78" cy="19.1" r="1.35" fill="#1aa3c8"/>
<circle cx="-60.45" cy="12.85" r="1.35" fill="#1aa3c8"/>
<circle cx="-61.46" cy="6.46" r="1.35" fill="#1aa3c8"/>
<circle cx="-61.8" cy="0" r="2.15" fill="#fb1f60"/>
<circle cx="-61.46" cy="-6.46" r="1.35" fill="#1aa3c8"/>
<circle cx="-60.45" cy="-12.85" r="1.35" fill="#1aa3c8"/>
<circle cx="-58.78" cy="-19.1" r="1.35" fill="#1aa3c8"/>
<circle cx="-56.46" cy="-25.14" r="1.35" fill="#1aa3c8"/>
<circle cx="-53.52" cy="-30.9" r="1.95" fill="#7c62fa"/>
<circle cx="-50" cy="-36.33" r="1.35" fill="#1aa3c8"/>
<circle cx="-45.93" cy="-41.35" r="1.35" fill="#1aa3c8"/>
<circle cx="-41.35" cy="-45.93" r="1.35" fill="#1aa3c8"/>
<circle cx="-36.33" cy="-50" r="1.35" fill="#1aa3c8"/>
<circle cx="-30.9" cy="-53.52" r="1.95" fill="#7c62fa"/>
<circle cx="-25.14" cy="-56.46" r="1.35" fill="#1aa3c8"/>
<circle cx="-19.1" cy="-58.78" r="1.35" fill="#1aa3c8"/>
<circle cx="-12.85" cy="-60.45" r="1.35" fill="#1aa3c8"/>
<circle cx="-6.46" cy="-61.46" r="1.35" fill="#1aa3c8"/>
<g font-size="16" font-weight="700" fill="#7c62fa" stroke="#7c62fa" stroke-width="0.45" stroke-linejoin="round" text-anchor="middle">
<text x="25.25" y="-37.98">1</text>
<text x="43.73" y="-19.5">2</text>
<text x="50.5" y="5.75">3</text>
<text x="43.73" y="31">4</text>
<text x="25.25" y="49.48">5</text>
<text x="0" y="56.25">6</text>
<text x="-25.25" y="49.48">7</text>
<text x="-43.73" y="31">8</text>
<text x="-50.5" y="5.75">9</text>
<text x="-42.26" y="-18.65">10</text>
<text x="-25.25" y="-37.98">11</text>
<text x="0" y="-44.75">12</text>
</g>
</g>
<g transform="rotate(59.3)">
<rect x="-6.8" y="-3.1" width="50.2" height="6.2" rx="3.1" fill="#fb1f60"/>
<rect x="7.6" y="-1.75" width="30.6" height="3.5" rx="1.2" fill="#fff"/>
</g>
<g transform="rotate(164.5)">
<rect x="-6.8" y="-3.1" width="37.6" height="6.2" rx="3.1" fill="#fb1f60"/>
<rect x="7.6" y="-1.75" width="18" height="3.5" rx="1.2" fill="#fff"/>
</g>
<circle r="2.7" fill="#ffe3ea"/>
<circle r="1.5" fill="#fff"/>
</g>
<path d="M253.3 627.3 H291.4 M283.3 619.2 L291.4 627.3 L283.3 635.4" fill="none" stroke="#1aa8cd" stroke-width="4.8" stroke-linecap="round" stroke-linejoin="round"/>
<path d="M126.85 716.7 v-3.2 a1.8 1.8 0 0 1 1.8 -1.8 h71.8 a1.8 1.8 0 0 1 1.8 1.8 v3.2 z" fill="#fb1f60"/>
<rect x="91.85" y="717.25" width="145.4" height="79.3" rx="37.67" ry="39.65" fill="#fff" stroke="url(#pill)" stroke-width="4.1"/>
<path d="M342.45 716.7 v-3.2 a1.8 1.8 0 0 1 1.8 -1.8 h71.8 a1.8 1.8 0 0 1 1.8 1.8 v3.2 z" fill="#fb1f60"/>
<rect x="307.45" y="717.25" width="145.4" height="79.3" rx="37.67" ry="39.65" fill="#fff" stroke="url(#pill)" stroke-width="4.1"/>
<rect x="91.85" y="817.65" width="145.4" height="79.4" rx="37.72" ry="39.7" fill="#fff" stroke="url(#pill)" stroke-width="4.1"/>
<rect x="307.45" y="817.65" width="145.4" height="79.4" rx="37.72" ry="39.7" fill="#fff" stroke="url(#pill)" stroke-width="4.1"/>
<rect x="258.9" y="849.55" width="26.4" height="4.9" rx="2.45" fill="#1aa8cd"/>
<rect x="258.9" y="860.85" width="26.4" height="4.9" rx="2.45" fill="#1aa8cd"/>
<g font-size="21.5" font-weight="700" fill="#7c62fa" stroke="#7c62fa" stroke-width="0.55" stroke-linejoin="round" text-anchor="middle" letter-spacing="1.15">
<text x="165.1" y="850.6">elapsed</text>
<text x="165.1" y="879.1">time</text>
</g>
<rect x="162.6" y="747.7" width="3.8" height="3.8" fill="#1aa8cd"/>
<rect x="162.6" y="756.3" width="3.8" height="3.8" fill="#1aa8cd"/>
<rect x="378.2" y="747.9" width="3.8" height="3.8" fill="#1aa8cd"/>
<rect x="378.2" y="756.5" width="3.8" height="3.8" fill="#1aa8cd"/>
<g transform="translate(620.3 627.3)">
<g transform="scale(1.05 1)">
<circle r="69.2" fill="#fff" stroke="url(#ring)" stroke-width="4.6"/>
<circle cx="0" cy="-61.8" r="2.15" fill="#fb1f60"/>
<circle cx="6.46" cy="-61.46" r="1.35" fill="#1aa3c8"/>
<circle cx="12.85" cy="-60.45" r="1.35" fill="#1aa3c8"/>
<circle cx="19.1" cy="-58.78" r="1.35" fill="#1aa3c8"/>
<circle cx="25.14" cy="-56.46" r="1.35" fill="#1aa3c8"/>
<circle cx="30.9" cy="-53.52" r="1.95" fill="#7c62fa"/>
<circle cx="36.33" cy="-50" r="1.35" fill="#1aa3c8"/>
<circle cx="41.35" cy="-45.93" r="1.35" fill="#1aa3c8"/>
<circle cx="45.93" cy="-41.35" r="1.35" fill="#1aa3c8"/>
<circle cx="50" cy="-36.33" r="1.35" fill="#1aa3c8"/>
<circle cx="53.52" cy="-30.9" r="1.95" fill="#7c62fa"/>
<circle cx="56.46" cy="-25.14" r="1.35" fill="#1aa3c8"/>
<circle cx="58.78" cy="-19.1" r="1.35" fill="#1aa3c8"/>
<circle cx="60.45" cy="-12.85" r="1.35" fill="#1aa3c8"/>
<circle cx="61.46" cy="-6.46" r="1.35" fill="#1aa3c8"/>
<circle cx="61.8" cy="0" r="2.15" fill="#fb1f60"/>
<circle cx="61.46" cy="6.46" r="1.35" fill="#1aa3c8"/>
<circle cx="60.45" cy="12.85" r="1.35" fill="#1aa3c8"/>
<circle cx="58.78" cy="19.1" r="1.35" fill="#1aa3c8"/>
<circle cx="56.46" cy="25.14" r="1.35" fill="#1aa3c8"/>
<circle cx="53.52" cy="30.9" r="1.95" fill="#7c62fa"/>
<circle cx="50" cy="36.33" r="1.35" fill="#1aa3c8"/>
<circle cx="45.93" cy="41.35" r="1.35" fill="#1aa3c8"/>
<circle cx="41.35" cy="45.93" r="1.35" fill="#1aa3c8"/>
<circle cx="36.33" cy="50" r="1.35" fill="#1aa3c8"/>
<circle cx="30.9" cy="53.52" r="1.95" fill="#7c62fa"/>
<circle cx="25.14" cy="56.46" r="1.35" fill="#1aa3c8"/>
<circle cx="19.1" cy="58.78" r="1.35" fill="#1aa3c8"/>
<circle cx="12.85" cy="60.45" r="1.35" fill="#1aa3c8"/>
<circle cx="6.46" cy="61.46" r="1.35" fill="#1aa3c8"/>
<circle cx="0" cy="61.8" r="2.15" fill="#fb1f60"/>
<circle cx="-6.46" cy="61.46" r="1.35" fill="#1aa3c8"/>
<circle cx="-12.85" cy="60.45" r="1.35" fill="#1aa3c8"/>
<circle cx="-19.1" cy="58.78" r="1.35" fill="#1aa3c8"/>
<circle cx="-25.14" cy="56.46" r="1.35" fill="#1aa3c8"/>
<circle cx="-30.9" cy="53.52" r="1.95" fill="#7c62fa"/>
<circle cx="-36.33" cy="50" r="1.35" fill="#1aa3c8"/>
<circle cx="-41.35" cy="45.93" r="1.35" fill="#1aa3c8"/>
<circle cx="-45.93" cy="41.35" r="1.35" fill="#1aa3c8"/>
<circle cx="-50" cy="36.33" r="1.35" fill="#1aa3c8"/>
<circle cx="-53.52" cy="30.9" r="1.95" fill="#7c62fa"/>
<circle cx="-56.46" cy="25.14" r="1.35" fill="#1aa3c8"/>
<circle cx="-58.78" cy="19.1" r="1.35" fill="#1aa3c8"/>
<circle cx="-60.45" cy="12.85" r="1.35" fill="#1aa3c8"/>
<circle cx="-61.46" cy="6.46" r="1.35" fill="#1aa3c8"/>
<circle cx="-61.8" cy="0" r="2.15" fill="#fb1f60"/>
<circle cx="-61.46" cy="-6.46" r="1.35" fill="#1aa3c8"/>
<circle cx="-60.45" cy="-12.85" r="1.35" fill="#1aa3c8"/>
<circle cx="-58.78" cy="-19.1" r="1.35" fill="#1aa3c8"/>
<circle cx="-56.46" cy="-25.14" r="1.35" fill="#1aa3c8"/>
<circle cx="-53.52" cy="-30.9" r="1.95" fill="#7c62fa"/>
<circle cx="-50" cy="-36.33" r="1.35" fill="#1aa3c8"/>
<circle cx="-45.93" cy="-41.35" r="1.35" fill="#1aa3c8"/>
<circle cx="-41.35" cy="-45.93" r="1.35" fill="#1aa3c8"/>
<circle cx="-36.33" cy="-50" r="1.35" fill="#1aa3c8"/>
<circle cx="-30.9" cy="-53.52" r="1.95" fill="#7c62fa"/>
<circle cx="-25.14" cy="-56.46" r="1.35" fill="#1aa3c8"/>
<circle cx="-19.1" cy="-58.78" r="1.35" fill="#1aa3c8"/>
<circle cx="-12.85" cy="-60.45" r="1.35" fill="#1aa3c8"/>
<circle cx="-6.46" cy="-61.46" r="1.35" fill="#1aa3c8"/>
<g font-size="16" font-weight="700" fill="#7c62fa" stroke="#7c62fa" stroke-width="0.45" stroke-linejoin="round" text-anchor="middle">
<text x="25.25" y="-37.98">1</text>
<text x="43.73" y="-19.5">2</text>
<text x="50.5" y="5.75">3</text>
<text x="43.73" y="31">4</text>
<text x="25.25" y="49.48">5</text>
<text x="0" y="56.25">6</text>
<text x="-25.25" y="49.48">7</text>
<text x="-43.73" y="31">8</text>
<text x="-50.5" y="5.75">9</text>
<text x="-42.26" y="-18.65">10</text>
<text x="-25.25" y="-37.98">11</text>
<text x="0" y="-44.75">12</text>
</g>
</g>
<g transform="rotate(240.2)">
<rect x="-6.8" y="-3.1" width="50.2" height="6.2" rx="3.1" fill="#fb1f60"/>
<rect x="7.6" y="-1.75" width="30.6" height="3.5" rx="1.2" fill="#fff"/>
</g>
<g transform="rotate(119)">
<rect x="-6.8" y="-3.1" width="37.6" height="6.2" rx="3.1" fill="#fb1f60"/>
<rect x="7.6" y="-1.75" width="18" height="3.5" rx="1.2" fill="#fff"/>
</g>
<circle r="2.7" fill="#ffe3ea"/>
<circle r="1.5" fill="#fff"/>
</g>
<g transform="translate(835.8 627.3)">
<g transform="scale(1.05 1)">
<circle r="69.2" fill="#fff" stroke="url(#ring)" stroke-width="4.6"/>
<circle cx="0" cy="-61.8" r="2.15" fill="#fb1f60"/>
<circle cx="6.46" cy="-61.46" r="1.35" fill="#1aa3c8"/>
<circle cx="12.85" cy="-60.45" r="1.35" fill="#1aa3c8"/>
<circle cx="19.1" cy="-58.78" r="1.35" fill="#1aa3c8"/>
<circle cx="25.14" cy="-56.46" r="1.35" fill="#1aa3c8"/>
<circle cx="30.9" cy="-53.52" r="1.95" fill="#7c62fa"/>
<circle cx="36.33" cy="-50" r="1.35" fill="#1aa3c8"/>
<circle cx="41.35" cy="-45.93" r="1.35" fill="#1aa3c8"/>
<circle cx="45.93" cy="-41.35" r="1.35" fill="#1aa3c8"/>
<circle cx="50" cy="-36.33" r="1.35" fill="#1aa3c8"/>
<circle cx="53.52" cy="-30.9" r="1.95" fill="#7c62fa"/>
<circle cx="56.46" cy="-25.14" r="1.35" fill="#1aa3c8"/>
<circle cx="58.78" cy="-19.1" r="1.35" fill="#1aa3c8"/>
<circle cx="60.45" cy="-12.85" r="1.35" fill="#1aa3c8"/>
<circle cx="61.46" cy="-6.46" r="1.35" fill="#1aa3c8"/>
<circle cx="61.8" cy="0" r="2.15" fill="#fb1f60"/>
<circle cx="61.46" cy="6.46" r="1.35" fill="#1aa3c8"/>
<circle cx="60.45" cy="12.85" r="1.35" fill="#1aa3c8"/>
<circle cx="58.78" cy="19.1" r="1.35" fill="#1aa3c8"/>
<circle cx="56.46" cy="25.14" r="1.35" fill="#1aa3c8"/>
<circle cx="53.52" cy="30.9" r="1.95" fill="#7c62fa"/>
<circle cx="50" cy="36.33" r="1.35" fill="#1aa3c8"/>
<circle cx="45.93" cy="41.35" r="1.35" fill="#1aa3c8"/>
<circle cx="41.35" cy="45.93" r="1.35" fill="#1aa3c8"/>
<circle cx="36.33" cy="50" r="1.35" fill="#1aa3c8"/>
<circle cx="30.9" cy="53.52" r="1.95" fill="#7c62fa"/>
<circle cx="25.14" cy="56.46" r="1.35" fill="#1aa3c8"/>
<circle cx="19.1" cy="58.78" r="1.35" fill="#1aa3c8"/>
<circle cx="12.85" cy="60.45" r="1.35" fill="#1aa3c8"/>
<circle cx="6.46" cy="61.46" r="1.35" fill="#1aa3c8"/>
<circle cx="0" cy="61.8" r="2.15" fill="#fb1f60"/>
<circle cx="-6.46" cy="61.46" r="1.35" fill="#1aa3c8"/>
<circle cx="-12.85" cy="60.45" r="1.35" fill="#1aa3c8"/>
<circle cx="-19.1" cy="58.78" r="1.35" fill="#1aa3c8"/>
<circle cx="-25.14" cy="56.46" r="1.35" fill="#1aa3c8"/>
<circle cx="-30.9" cy="53.52" r="1.95" fill="#7c62fa"/>
<circle cx="-36.33" cy="50" r="1.35" fill="#1aa3c8"/>
<circle cx="-41.35" cy="45.93" r="1.35" fill="#1aa3c8"/>
<circle cx="-45.93" cy="41.35" r="1.35" fill="#1aa3c8"/>
<circle cx="-50" cy="36.33" r="1.35" fill="#1aa3c8"/>
<circle cx="-53.52" cy="30.9" r="1.95" fill="#7c62fa"/>
<circle cx="-56.46" cy="25.14" r="1.35" fill="#1aa3c8"/>
<circle cx="-58.78" cy="19.1" r="1.35" fill="#1aa3c8"/>
<circle cx="-60.45" cy="12.85" r="1.35" fill="#1aa3c8"/>
<circle cx="-61.46" cy="6.46" r="1.35" fill="#1aa3c8"/>
<circle cx="-61.8" cy="0" r="2.15" fill="#fb1f60"/>
<circle cx="-61.46" cy="-6.46" r="1.35" fill="#1aa3c8"/>
<circle cx="-60.45" cy="-12.85" r="1.35" fill="#1aa3c8"/>
<circle cx="-58.78" cy="-19.1" r="1.35" fill="#1aa3c8"/>
<circle cx="-56.46" cy="-25.14" r="1.35" fill="#1aa3c8"/>
<circle cx="-53.52" cy="-30.9" r="1.95" fill="#7c62fa"/>
<circle cx="-50" cy="-36.33" r="1.35" fill="#1aa3c8"/>
<circle cx="-45.93" cy="-41.35" r="1.35" fill="#1aa3c8"/>
<circle cx="-41.35" cy="-45.93" r="1.35" fill="#1aa3c8"/>
<circle cx="-36.33" cy="-50" r="1.35" fill="#1aa3c8"/>
<circle cx="-30.9" cy="-53.52" r="1.95" fill="#7c62fa"/>
<circle cx="-25.14" cy="-56.46" r="1.35" fill="#1aa3c8"/>
<circle cx="-19.1" cy="-58.78" r="1.35" fill="#1aa3c8"/>
<circle cx="-12.85" cy="-60.45" r="1.35" fill="#1aa3c8"/>
<circle cx="-6.46" cy="-61.46" r="1.35" fill="#1aa3c8"/>
<g font-size="16" font-weight="700" fill="#7c62fa" stroke="#7c62fa" stroke-width="0.45" stroke-linejoin="round" text-anchor="middle">
<text x="25.25" y="-37.98">1</text>
<text x="43.73" y="-19.5">2</text>
<text x="50.5" y="5.75">3</text>
<text x="43.73" y="31">4</text>
<text x="25.25" y="49.48">5</text>
<text x="0" y="56.25">6</text>
<text x="-25.25" y="49.48">7</text>
<text x="-43.73" y="31">8</text>
<text x="-50.5" y="5.75">9</text>
<text x="-42.26" y="-18.65">10</text>
<text x="-25.25" y="-37.98">11</text>
<text x="0" y="-44.75">12</text>
</g>
</g>
<g transform="rotate(-29.5)">
<rect x="-6.8" y="-3.1" width="50.2" height="6.2" rx="3.1" fill="#fb1f60"/>
<rect x="7.6" y="-1.75" width="30.6" height="3.5" rx="1.2" fill="#fff"/>
</g>
<g transform="rotate(-84.5)">
<rect x="-6.8" y="-3.1" width="37.6" height="6.2" rx="3.1" fill="#fb1f60"/>
<rect x="7.6" y="-1.75" width="18" height="3.5" rx="1.2" fill="#fff"/>
</g>
<circle r="2.7" fill="#ffe3ea"/>
<circle r="1.5" fill="#fff"/>
</g>
<path d="M709.1 627.3 H747.2 M739.1 619.2 L747.2 627.3 L739.1 635.4" fill="none" stroke="#1aa8cd" stroke-width="4.8" stroke-linecap="round" stroke-linejoin="round"/>
<path d="M582.65 716.7 v-3.2 a1.8 1.8 0 0 1 1.8 -1.8 h71.8 a1.8 1.8 0 0 1 1.8 1.8 v3.2 z" fill="#fb1f60"/>
<rect x="547.65" y="717.25" width="145.4" height="79.3" rx="37.67" ry="39.65" fill="#fff" stroke="url(#pill)" stroke-width="4.1"/>
<path d="M798.15 716.7 v-3.2 a1.8 1.8 0 0 1 1.8 -1.8 h71.8 a1.8 1.8 0 0 1 1.8 1.8 v3.2 z" fill="#fb1f60"/>
<rect x="763.15" y="717.25" width="145.4" height="79.3" rx="37.67" ry="39.65" fill="#fff" stroke="url(#pill)" stroke-width="4.1"/>
<rect x="547.65" y="817.65" width="145.4" height="79.4" rx="37.72" ry="39.7" fill="#fff" stroke="url(#pill)" stroke-width="4.1"/>
<rect x="763.15" y="817.65" width="145.4" height="79.4" rx="37.72" ry="39.7" fill="#fff" stroke="url(#pill)" stroke-width="4.1"/>
<rect x="714.7" y="849.55" width="26.4" height="4.9" rx="2.45" fill="#1aa8cd"/>
<rect x="714.7" y="860.85" width="26.4" height="4.9" rx="2.45" fill="#1aa8cd"/>
<g font-size="21.5" font-weight="700" fill="#7c62fa" stroke="#7c62fa" stroke-width="0.55" stroke-linejoin="round" text-anchor="middle" letter-spacing="1.15">
<text x="620.9" y="850.6">elapsed</text>
<text x="620.9" y="879.1">time</text>
</g>
<rect x="618.4" y="747.7" width="3.8" height="3.8" fill="#1aa8cd"/>
<rect x="618.4" y="756.3" width="3.8" height="3.8" fill="#1aa8cd"/>
<rect x="833.9" y="747.9" width="3.8" height="3.8" fill="#1aa8cd"/>
<rect x="833.9" y="756.5" width="3.8" height="3.8" fill="#1aa8cd"/>
<g font-size="24.9" font-weight="700" fill="#fff" filter="url(#wm)">
<text transform="translate(13.36 51.55) rotate(-43.3)">Adobe Stock</text>
<text transform="translate(-104.72 340.76) rotate(-43.3)">Adobe Stock</text>
<text transform="translate(56.5 179.54) rotate(-43.3)">Adobe Stock</text>
<text transform="translate(217.72 18.31) rotate(-43.3)">Adobe Stock</text>
<text transform="translate(23.26 383.89) rotate(-43.3)">Adobe Stock</text>
<text transform="translate(184.48 222.67) rotate(-43.3)">Adobe Stock</text>
<text transform="translate(345.71 61.45) rotate(-43.3)">Adobe Stock</text>
<text transform="translate(-94.82 673.1) rotate(-43.3)">Adobe Stock</text>
<text transform="translate(66.4 511.88) rotate(-43.3)">Adobe Stock</text>
<text transform="translate(227.62 350.66) rotate(-43.3)">Adobe Stock</text>
<text transform="translate(388.84 189.43) rotate(-43.3)">Adobe Stock</text>
<text transform="translate(550.06 28.21) rotate(-43.3)">Adobe Stock</text>
<text transform="translate(33.16 716.23) rotate(-43.3)">Adobe Stock</text>
<text transform="translate(194.38 555.01) rotate(-43.3)">Adobe Stock</text>
<text transform="translate(355.61 393.79) rotate(-43.3)">Adobe Stock</text>
<text transform="translate(516.83 232.57) rotate(-43.3)">Adobe Stock</text>
<text transform="translate(678.05 71.35) rotate(-43.3)">Adobe Stock</text>
<text transform="translate(-84.92 1005.44) rotate(-43.3)">Adobe Stock</text>
<text transform="translate(76.3 844.22) rotate(-43.3)">Adobe Stock</text>
<text transform="translate(237.52 683) rotate(-43.3)">Adobe Stock</text>
<text transform="translate(398.74 521.78) rotate(-43.3)">Adobe Stock</text>
<text transform="translate(559.96 360.56) rotate(-43.3)">Adobe Stock</text>
<text transform="translate(721.18 199.33) rotate(-43.3)">Adobe Stock</text>
<text transform="translate(882.4 38.11) rotate(-43.3)">Adobe Stock</text>
<text transform="translate(43.06 1048.57) rotate(-43.3)">Adobe Stock</text>
<text transform="translate(204.28 887.35) rotate(-43.3)">Adobe Stock</text>
<text transform="translate(365.51 726.13) rotate(-43.3)">Adobe Stock</text>
<text transform="translate(526.73 564.91) rotate(-43.3)">Adobe Stock</text>
<text transform="translate(687.95 403.69) rotate(-43.3)">Adobe Stock</text>
<text transform="translate(849.17 242.47) rotate(-43.3)">Adobe Stock</text>
<text transform="translate(247.42 1015.34) rotate(-43.3)">Adobe Stock</text>
<text transform="translate(408.64 854.12) rotate(-43.3)">Adobe Stock</text>
<text transform="translate(569.86 692.9) rotate(-43.3)">Adobe Stock</text>
<text transform="translate(731.08 531.68) rotate(-43.3)">Adobe Stock</text>
<text transform="translate(892.3 370.45) rotate(-43.3)">Adobe Stock</text>
<text transform="translate(375.4 1058.47) rotate(-43.3)">Adobe Stock</text>
<text transform="translate(536.63 897.25) rotate(-43.3)">Adobe Stock</text>
<text transform="translate(697.85 736.03) rotate(-43.3)">Adobe Stock</text>
<text transform="translate(859.07 574.81) rotate(-43.3)">Adobe Stock</text>
<text transform="translate(579.76 1025.24) rotate(-43.3)">Adobe Stock</text>
<text transform="translate(740.98 864.02) rotate(-43.3)">Adobe Stock</text>
<text transform="translate(902.2 702.8) rotate(-43.3)">Adobe Stock</text>
<text transform="translate(707.75 1068.37) rotate(-43.3)">Adobe Stock</text>
<text transform="translate(868.97 907.15) rotate(-43.3)">Adobe Stock</text>
<text transform="translate(912.1 1035.14) rotate(-43.3)">Adobe Stock</text>
</g>
<text transform="translate(28 984.5) rotate(-90)" font-size="18.3" fill="#383838" stroke="#383838" stroke-width="0.6" style="filter:drop-shadow(0 0 1.2px rgba(0,0,0,.3))">Adobe Stock | #312535696</text>
</svg>
</body></html>
